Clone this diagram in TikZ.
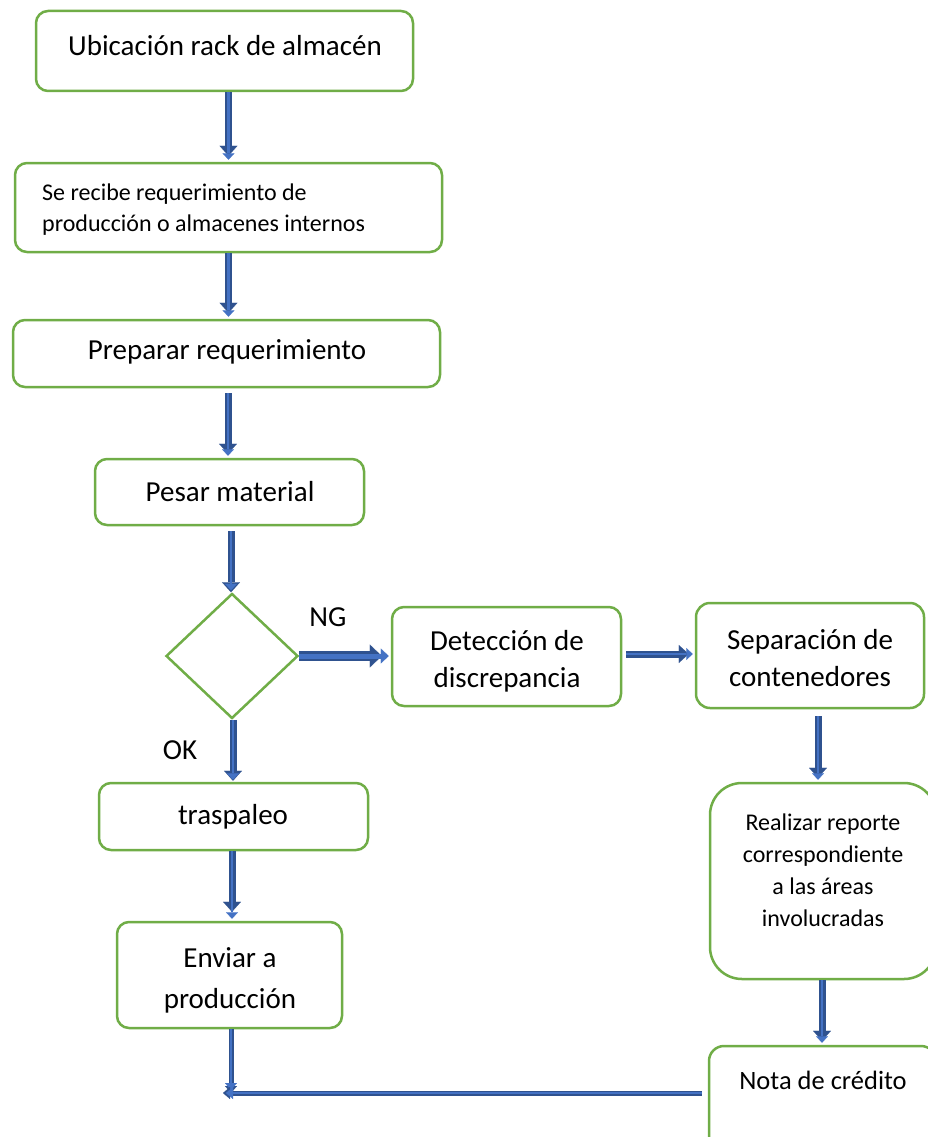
\documentclass[tikz,border=0pt]{standalone}
\usepackage{fontspec}
\setmainfont{Carlito}
\usetikzlibrary{arrows.meta,shapes.geometric}
\definecolor{boxgreen}{HTML}{70AD47}
\definecolor{arrowdark}{HTML}{2F528F}
\definecolor{arrowfill}{HTML}{4472C4}

\begin{document}
\begin{tikzpicture}[x=1pt,y=-1pt,
  box/.style={draw=boxgreen, line width=2.5pt, rounded corners=12pt, inner sep=0pt, fill=white},
  lbl/.style={font=\fontsize{29}{37}\selectfont, align=center, inner sep=0pt},
  smalllbl/.style={font=\fontsize{24}{31}\selectfont, align=center, inner sep=0pt},
  flow/.style={draw=arrowdark, line width=7pt,
    -{Triangle[width=18pt,length=10pt,line width=0.1pt]},
    postaction={draw=arrowfill, line width=2.8pt,
      -{Triangle[width=12pt,length=6.5pt,line width=0.1pt]}, shorten >=2pt}},
  bigflow/.style={draw=arrowdark, line width=10pt,
    -{Triangle[width=23pt,length=12pt,line width=0.1pt]},
    postaction={draw=arrowfill, line width=5pt,
      -{Triangle[width=15pt,length=8pt,line width=0.1pt]}, shorten >=2pt}},
  thinflow/.style={draw=arrowdark, line width=5pt,
    -{Triangle[width=12pt,length=7pt,line width=0.1pt]},
    postaction={draw=arrowfill, line width=2pt, shorten >=3pt}},
]
\useasboundingbox (0,0) rectangle (928,1137);
\clip (0,0) rectangle (928,1137);

% process boxes
\node[box, minimum width=377pt, minimum height=80pt] (ubic) at (224.5,51) {};
\node[box, minimum width=427pt, minimum height=89pt] (recibe) at (228.5,207.5) {};
\node[box, minimum width=427pt, minimum height=67pt] (prep) at (226.5,353.5) {};
\node[box, minimum width=269pt, minimum height=66pt] (pesar) at (229.5,492) {};
\node[draw=boxgreen, line width=2.5pt, diamond, shape aspect=1.06,
      minimum width=132pt, minimum height=125pt, inner sep=0pt] (dec) at (232,656) {};
\node[box, minimum width=229pt, minimum height=99pt] (detec) at (506.5,656.5) {};
\node[box, rounded corners=14pt, minimum width=228pt, minimum height=105pt] (separ) at (810,655.5) {};
\node[box, rounded corners=32pt, minimum width=226pt, minimum height=196pt] (real) at (823,881) {};
\node[box, rounded corners=15pt, minimum width=227pt, minimum height=104pt] (nota) at (822.5,1098) {};
\node[box, minimum width=269pt, minimum height=67pt] (trasp) at (233.5,816.5) {};
\node[box, minimum width=225pt, minimum height=106pt] (enviar) at (229.5,975) {};
\coordinate (join) at (223,1093);

% texts
\node[lbl] (ubic-t) at (225,46) {Ubicación rack de almacén};
\node[smalllbl, anchor=west, align=left] (recibe-t) at (42,210) {Se recibe requerimiento de\\producción o almacenes internos};
\node[lbl] (prep-t) at (227,352) {Preparar requerimiento};
\node[lbl] (pesar-t) at (230,492) {Pesar material};
\node[lbl] (ng) at (328,617) {NG};
\node[lbl] (ok) at (180,750) {OK};
\node[lbl] (detec-t) at (507,661) {Detección de\\discrepancia};
\node[lbl] (separ-t) at (810,658) {Separación de\\contenedores};
\node[smalllbl, font=\fontsize{24}{32}\selectfont] (real-t) at (823,870) {Realizar reporte\\correspondiente\\a las áreas\\involucradas};
\node[lbl, font=\fontsize{26.5}{32}\selectfont] (nota-t) at (823,1080) {Nota de crédito};
\node[lbl] (trasp-t) at (233,817) {traspaleo};
\node[lbl, font=\fontsize{29}{41}\selectfont] (enviar-t) at (230,980) {Enviar a\\producción};

% connectors
\draw[flow, shorten >=6pt] (ubic.south -| recibe.north) -- (recibe.north);
\draw[flow, shorten >=6pt] (recibe.south) -- (recibe.south |- prep.north);
\draw[flow, shorten <=5pt, shorten >=4pt] ([xshift=1.5pt]prep.south) -- ([xshift=1.5pt]prep.south |- pesar.north);
\draw[flow, shorten <=5pt] ([xshift=1.5pt]pesar.south) -- ([xshift=1.5pt]pesar.south |- dec.north);
\draw[flow, shorten >=1pt] ([xshift=1pt]dec.south) -- ([xshift=1pt]dec.south |- trasp.north);
\draw[flow, shorten >=9pt] ([xshift=-1.5pt]trasp.south) -- ([xshift=-1.5pt]trasp.south |- enviar.north);
\draw[thinflow] ([xshift=1.5pt]enviar.south) -- ([xshift=1.5pt]enviar.south |- join);
\draw[thinflow, shorten <=6pt] (nota.west |- join) -- (join);
\draw[bigflow, shorten >=9pt] (dec.east) -- (dec.east -| detec.west);
\draw[flow, shorten <=4pt, shorten >=6pt] ([yshift=2.5pt]detec.east) -- ([yshift=2.5pt]detec.east -| separ.west);
\draw[flow, shorten <=7pt, shorten >=4pt] ([xshift=8pt]separ.south) -- ([xshift=8pt]separ.south |- real.north);
\draw[flow, shorten >=4pt] ([xshift=-1pt]real.south) -- ([xshift=-1pt]real.south |- nota.north);
\end{tikzpicture}
\end{document}
